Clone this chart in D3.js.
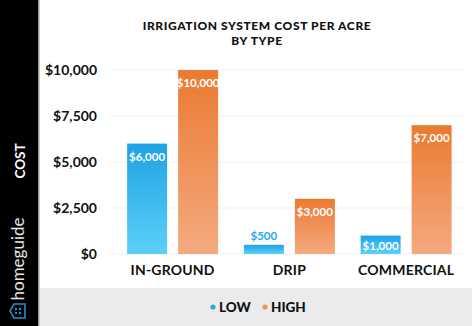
<!DOCTYPE html>
<html><head><meta charset="utf-8">
<script src="https://cdn.jsdelivr.net/npm/d3@7"></script>
<style>html,body{margin:0;padding:0;background:#fff;}svg{display:block;}</style>
</head><body>
<svg id="c" width="474" height="326"></svg>
<script>
const categories = ["IN-GROUND", "DRIP", "COMMERCIAL"];
const seriesNames = ["LOW", "HIGH"];
const lowValues = [6000, 500, 1000];
const highValues = [10000, 3000, 7000];
const yTicks = [0, 2500, 5000, 7500, 10000];
const titleLines = ["IRRIGATION SYSTEM COST PER ACRE", "BY TYPE"];

const FONT = "'Lato', 'Open Sans', sans-serif";
const svg = d3.select("#c");
const defs = svg.append("defs");
const grads = {
  LOW: ["#1fa3e4", "#5ccff9"],
  HIGH: ["#eb7a31", "#f4aa80"]
};
Object.entries(grads).forEach(([k, c]) => {
  const g = defs.append("linearGradient").attr("id", "g" + k)
    .attr("x1", 0).attr("y1", 0).attr("x2", 0).attr("y2", 1);
  g.append("stop").attr("offset", "0%").attr("stop-color", c[0]);
  g.append("stop").attr("offset", "100%").attr("stop-color", c[1]);
});

// sidebar
svg.append("rect").attr("x", 0).attr("y", 0).attr("width", 38).attr("height", 326).attr("fill", "#000");
svg.append("rect").attr("x", 38).attr("y", 0).attr("width", 1.5).attr("height", 326).attr("fill", "#9a9a9a");
// legend band
svg.append("rect").attr("x", 40).attr("y", 288).attr("width", 432).attr("height", 38).attr("fill", "#ebebeb");

svg.append("text").attr("transform", "translate(25,161) rotate(-90)")
  .attr("text-anchor", "middle").attr("font-family", FONT).attr("font-weight", 700)
  .attr("font-size", 13.5).attr("fill", "#fff").text("COST");
svg.append("text").attr("transform", "translate(24,259) rotate(-90)")
  .attr("text-anchor", "middle").attr("font-family", FONT).attr("font-weight", 400)
  .attr("font-size", 17).attr("fill", "#e6e6e6").text("homeguide");
// house icon
const ic = svg.append("g").attr("transform", "translate(18,311)");
ic.append("path").attr("d", "M-7,-4 L0,-8 L7,-4 L7,7 L-7,7 Z").attr("fill", "none")
  .attr("stroke", "#1c93cf").attr("stroke-width", 1.6).attr("transform", "rotate(-90)");
[[-2,-2],[2,-2],[-2,2],[2,2]].forEach(p => ic.append("rect").attr("x", p[0]-1).attr("y", p[1]-1)
  .attr("width", 2).attr("height", 2).attr("fill", "#1c93cf"));

// title
titleLines.forEach((t, i) => svg.append("text").attr("x", 257).attr("y", 30 + i * 15)
  .attr("text-anchor", "middle").attr("font-family", FONT).attr("font-weight", 900)
  .attr("font-size", 12).attr("letter-spacing", 0.6).attr("fill", "#111").text(t));

const y = d3.scaleLinear().domain([0, 10000]).range([254, 70]);
const x0 = d3.scaleBand().domain(categories).range([114.25, 464.5]).padding(0);
const x1 = d3.scaleBand().domain(seriesNames).range([0, 91]).paddingInner(2 - 91 / 51).paddingOuter(0);

// grid
svg.append("g").selectAll("line").data(yTicks).join("line")
  .attr("x1", 112).attr("x2", 464).attr("y1", d => y(d)).attr("y2", d => y(d))
  .attr("stroke", "#efefef").attr("stroke-width", 1);

// y axis
const yAxis = svg.append("g").attr("transform", "translate(97,0)")
  .call(d3.axisLeft(y).tickValues(yTicks).tickSize(0).tickPadding(0)
    .tickFormat(d => "$" + d3.format(",")(d)));
yAxis.select(".domain").remove();
yAxis.selectAll("text").attr("font-family", FONT).attr("font-weight", 700)
  .attr("font-size", 14).attr("fill", "#111").attr("dy", "0.35em");

// x axis
const xAxis = svg.append("g").attr("transform", "translate(0,263)")
  .call(d3.axisBottom(x0).tickSize(0).tickPadding(0));
xAxis.select(".domain").remove();
xAxis.selectAll("text").attr("font-family", FONT).attr("font-weight", 700)
  .attr("font-size", 14).attr("fill", "#111").attr("letter-spacing", 0.2).attr("dy", "0.85em");

const data = categories.map((c, i) => ({ cat: c, vals: [
  { s: "LOW", v: lowValues[i] }, { s: "HIGH", v: highValues[i] }] }));

const inside = d => (y(0) - y(d.v)) > 15;
const groups = svg.append("g").selectAll("g").data(data).join("g")
  .attr("transform", d => `translate(${x0(d.cat) + x0.bandwidth() / 2 - 45.5},0)`);
groups.selectAll("rect").data(d => d.vals).join("rect")
  .attr("x", d => x1(d.s)).attr("width", x1.bandwidth())
  .attr("y", d => y(d.v)).attr("height", d => y(0) - y(d.v))
  .attr("fill", d => `url(#g${d.s})`);
groups.selectAll("text").data(d => d.vals).join("text")
  .attr("x", d => x1(d.s) + x1.bandwidth() / 2)
  .attr("y", d => inside(d) ? y(d.v) + Math.min(17, y(0) - y(d.v) - 4) : y(d.v) - 5)
  .attr("text-anchor", "middle").attr("font-family", FONT).attr("font-weight", 700)
  .attr("font-size", 11.5).attr("fill", d => inside(d) ? "#fff" : "#29aae6")
  .text(d => "$" + d3.format(",")(d.v));

// legend
const leg = [{ s: "LOW", c: "#2aa9e0", x: 213 }, { s: "HIGH", c: "#f0915a", x: 265 }];
leg.forEach(l => {
  svg.append("circle").attr("cx", l.x).attr("cy", 307).attr("r", 2.6).attr("fill", l.c);
  svg.append("text").attr("x", l.x + 6).attr("y", 312).attr("font-family", FONT)
    .attr("font-weight", 900).attr("font-size", 13.5).attr("fill", "#111").text(l.s);
});
</script>
</body></html>
